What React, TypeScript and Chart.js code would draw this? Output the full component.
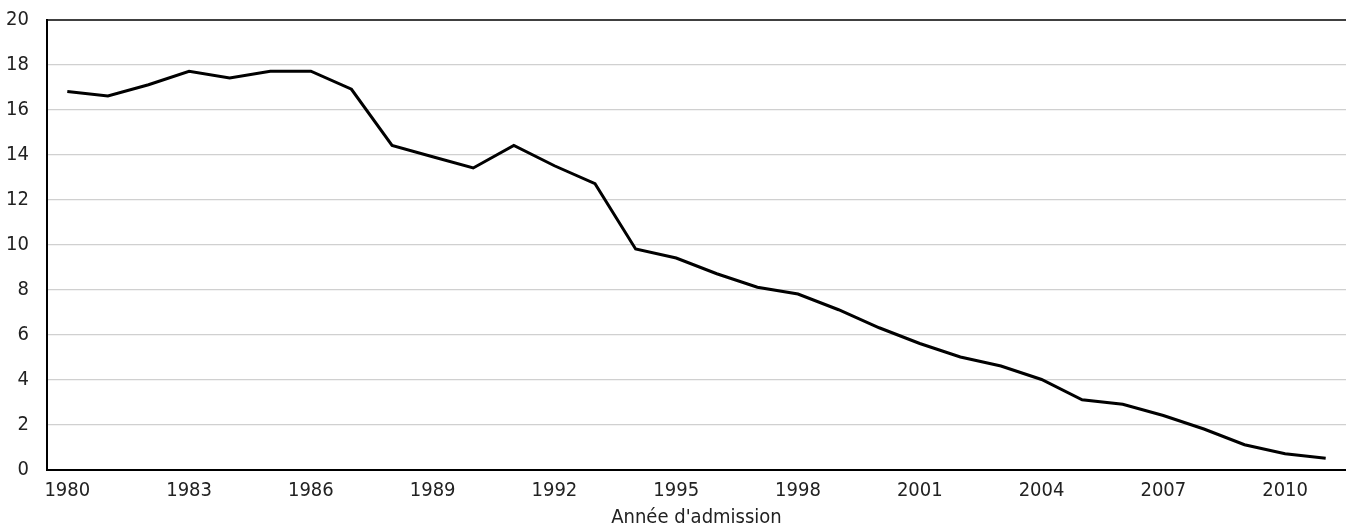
import React, { useEffect, useRef } from "react";
import { Chart, registerables } from "chart.js";

Chart.register(...registerables);

const years: string[] = [
  "1980", "1981", "1982", "1983", "1984", "1985", "1986", "1987", "1988", "1989",
  "1990", "1991", "1992", "1993", "1994", "1995", "1996", "1997", "1998", "1999",
  "2000", "2001", "2002", "2003", "2004", "2005", "2006", "2007", "2008", "2009",
  "2010", "2011",
];

const values: number[] = [
  16.8, 16.6, 17.1, 17.7, 17.4, 17.7, 17.7, 16.9, 14.4, 13.9,
  13.4, 14.4, 13.5, 12.7, 9.8, 9.4, 8.7, 8.1, 7.8, 7.1,
  6.3, 5.6, 5.0, 4.6, 4.0, 3.1, 2.9, 2.4, 1.8, 1.1,
  0.7, 0.5,
];

const yTicks: number[] = [0, 2, 4, 6, 8, 10, 12, 14, 16, 18, 20];
const xTitle = "Année d'admission";

const FONT = "'Liberation Sans Narrow', 'DejaVu Sans Condensed', 'Roboto', sans-serif";

export default function App() {
  const ref = useRef<HTMLCanvasElement | null>(null);

  useEffect(() => {
    document.body.style.margin = "0";
    if (!ref.current) return;
    const chart = new Chart(ref.current, {
      type: "line",
      data: {
        labels: years,
        datasets: [
          {
            data: values,
            borderColor: "#000000",
            borderWidth: 3,
            pointRadius: 0,
            tension: 0,
            fill: false,
          },
        ],
      },
      options: {
        animation: false,
        responsive: false,
        maintainAspectRatio: false,
        layout: { autoPadding: false, padding: { top: 19.5, left: 0, right: 0, bottom: 0 } },
        plugins: { legend: { display: false }, tooltip: { enabled: false } },
        scales: {
          x: {
            type: "category",
            offset: true,
            afterFit: (axis: any) => { axis.height = 59.5; axis.paddingLeft = 0; axis.paddingRight = 0; },
            grid: { display: false, drawTicks: false },
            border: { display: true, color: "#000000", width: 2 },
            ticks: {
              autoSkip: false,
              maxRotation: 0,
              padding: 9,
              color: "#222222",
              font: { family: FONT, size: 20 },
              callback: (_v: any, i: number) => ((i % 3 === 0) ? years[i] : ""),
            },
            title: {
              display: true,
              text: xTitle,
              color: "#222222",
              font: { family: FONT, size: 20 },
              padding: { top: 0, bottom: -1 },
            },
          },
          y: {
            min: 0,
            max: 20,
            afterFit: (axis: any) => { axis.width = 47; axis.paddingTop = 0; axis.paddingBottom = 0; },
            afterBuildTicks: (axis: any) => { axis.ticks = yTicks.map((v) => ({ value: v })); },
            grid: {
              drawTicks: false,
              color: (ctx: any) => (ctx.tick && ctx.tick.value === 20 ? "#404040" : (ctx.tick && ctx.tick.value === 0 ? "rgba(0,0,0,0)" : "#d0d0d0")),
              lineWidth: (ctx: any) => (ctx.tick && ctx.tick.value === 20 ? 2 : 1.3),
            },
            border: { display: true, color: "#000000", width: 2 },
            ticks: {
              padding: 18,
              color: "#222222",
              font: { family: FONT, size: 20 },
            },
          },
        },
      },
    });
    return () => chart.destroy();
  }, []);

  return (
    <div style={{ width: 1346, height: 529, background: "#ffffff" }}>
      <canvas ref={ref} width={1346} height={529} style={{ display: "block" }} />
    </div>
  );
}
